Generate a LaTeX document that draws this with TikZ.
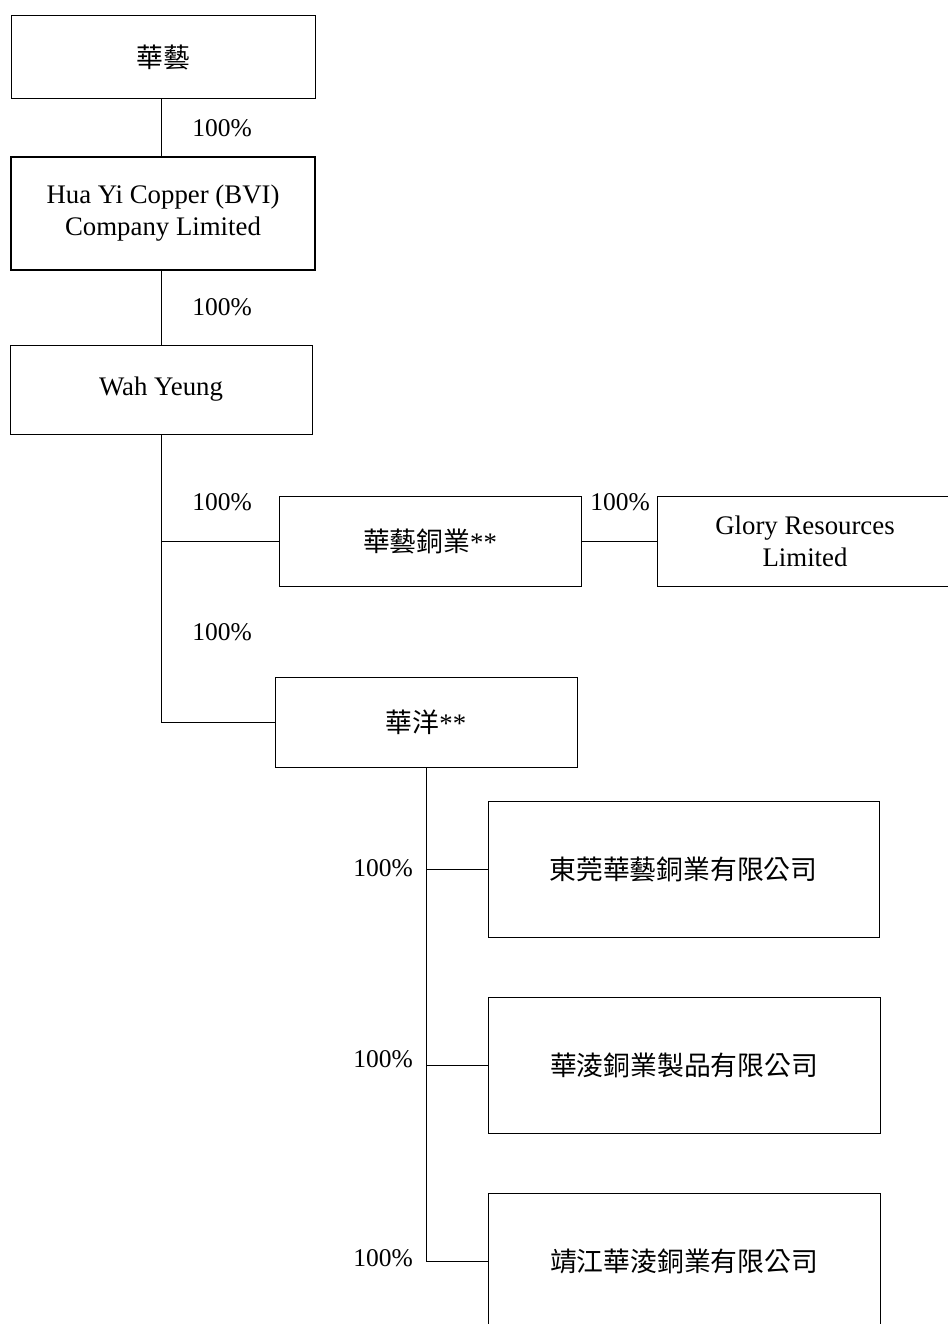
\documentclass[tikz,border=0pt]{standalone}
\usepackage{fontspec}
\setmainfont{Liberation Serif}
\newfontfamily\cjk{Noto Sans CJK TC}
\begin{document}
\begin{tikzpicture}[x=1pt,y=-1pt,
  box/.style={draw, line width=1pt, inner sep=0pt, align=center,
    font=\fontsize{26.8}{32}\selectfont},
  pct/.style={inner sep=0pt, font=\fontsize{25.5}{30}\selectfont},
  link/.style={line width=1pt}]
\useasboundingbox (0,0) rectangle (947,1324);
\fill[white] (0,0) rectangle (947,1324);
\node[box, minimum width=304pt, minimum height=83pt] (n1) at (163,57.5) {{\cjk 華藝}};
\node[box, line width=2pt, minimum width=304pt, minimum height=113pt] (n2) at (163,213.5) {Hua Yi Copper (BVI)\\Company Limited};
\node[box, minimum width=302pt, minimum height=89pt] (n3) at (161,389.5) {Wah Yeung};
\node[box, minimum width=302pt, minimum height=90pt] (n4) at (430,541) {{\cjk 華藝銅業}**};
\node[box, minimum width=296pt, minimum height=90pt] (n5) at (805,541) {Glory Resources\\Limited};
\node[box, minimum width=302pt, minimum height=90pt] (n6) at (426,722) {{\cjk 華洋}**};
\node[box, minimum width=391pt, minimum height=136pt] (n7) at (683.5,869) {{\cjk 東莞華藝銅業有限公司}};
\node[box, minimum width=392pt, minimum height=136pt] (n8) at (684,1065) {{\cjk 華淩銅業製品有限公司}};
\node[box, minimum width=392pt, minimum height=136pt] (n9) at (684,1261) {{\cjk 靖江華淩銅業有限公司}};
\draw[link] (n1.south -| n3.north) -- (n2.north -| n3.north);
\draw[link] (n2.south -| n3.north) -- (n3.north);
\draw[link] (n3.south) |- (n4.west);
\draw[link] (n3.south) |- (n6.west);
\draw[link] (n4.east) -- (n5.west);
\draw[link] (n6.south) |- (n7.west);
\draw[link] (n6.south) |- (n8.west);
\draw[link] (n6.south) |- (n9.west);
\node[pct] (p1) at (222,128) {100\%};
\node[pct] (p2) at (222,307) {100\%};
\node[pct] (p3) at (222,502) {100\%};
\node[pct] (p4) at (222,632) {100\%};
\node[pct] (p5) at (620,502) {100\%};
\node[pct] (p6) at (383,868) {100\%};
\node[pct] (p7) at (383,1059) {100\%};
\node[pct] (p8) at (383,1258) {100\%};
\end{tikzpicture}
\end{document}
